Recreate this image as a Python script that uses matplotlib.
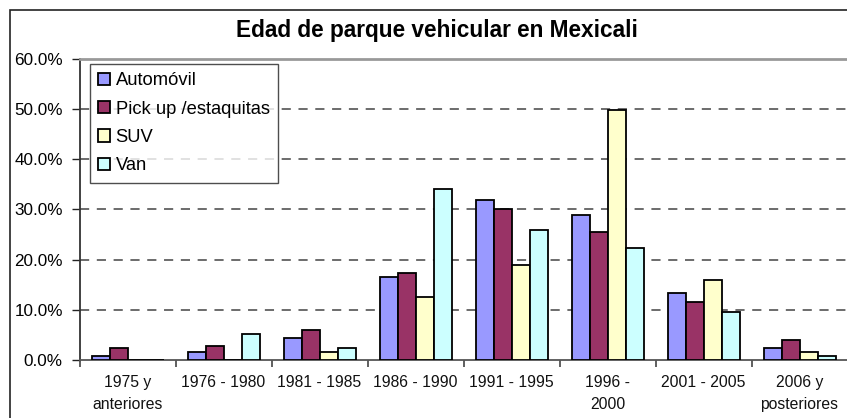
import matplotlib
matplotlib.use("Agg")
import matplotlib.pyplot as plt
import numpy as np
from matplotlib.patches import Rectangle
from matplotlib.ticker import FuncFormatter, FixedLocator

plt.rcParams['font.family'] = ['Liberation Sans', 'DejaVu Sans']

categories = ["1975 y\nanteriores", "1976 - 1980", "1981 - 1985", "1986 - 1990",
              "1991 - 1995", "1996 -\n2000", "2001 - 2005", "2006 y\nposteriores"]
automovil = [0.7, 1.6, 4.3, 16.6, 31.8, 28.9, 13.4, 2.3]
pickup = [2.3, 2.7, 5.9, 17.4, 30.1, 25.4, 11.5, 4.0]
suv = [0.0, 0.0, 1.6, 12.6, 19.0, 49.7, 15.9, 1.5]
van = [0.0, 5.2, 2.3, 34.1, 25.8, 22.2, 9.6, 0.8]
series_names = ["Automóvil", "Pick up /estaquitas", "SUV", "Van"]
colors = ["#9999FF", "#993366", "#FFFFCC", "#CCFFFF"]
title = "Edad de parque vehicular en Mexicali"

W, H = 847, 418
fig = plt.figure(figsize=(W / 100, H / 100), dpi=100)

# outer chart border
fig.patches.append(Rectangle((10 / W, -0.1), 1.2, 1 - 10 / H + 0.1,
                             transform=fig.transFigure, fill=False,
                             edgecolor="#222222", linewidth=1.2))

left, right, top, bottom = 79.5, 847.5, 58.5, 360
ax = fig.add_axes([left / W, 1 - bottom / H, (right - left) / W, (bottom - top) / H])

x = np.arange(len(categories))
bw = 0.1875
data = [automovil, pickup, suv, van]
for i, (vals, c, name) in enumerate(zip(data, colors, series_names)):
    ax.bar(x + (i - 1.5) * bw, vals, width=bw, color=c, edgecolor="black",
           linewidth=1.3, label=name, zorder=3)

ax.set_xlim(-0.5, len(categories) - 0.5)
ax.set_ylim(0, 60)
ax.yaxis.set_major_locator(FixedLocator([0, 10, 20, 30, 40, 50, 60]))
ax.yaxis.set_major_formatter(FuncFormatter(lambda v, p: f"{v:.1f}%"))
ax.set_xticks(x)
ax.set_xticklabels(categories, fontsize=11.3, color="#111111", linespacing=1.6)
ax.xaxis.set_minor_locator(FixedLocator(np.arange(-0.5, len(categories), 1.0)))
ax.tick_params(axis="x", which="major", length=0, pad=11)
ax.tick_params(axis="x", which="minor", length=5, color="#444444", width=1.2)
ax.tick_params(axis="y", length=6, color="#222222", width=1, labelsize=12.3, pad=6)

for gy in [10, 20, 30, 40, 50]:
    ax.axhline(gy, color="#444444", linestyle=(0, (6, 5)), linewidth=1.1, zorder=1)

ax.spines["right"].set_visible(False)
ax.spines["top"].set_color("#999999")
ax.spines["top"].set_linewidth(2)
ax.spines["left"].set_color("#333333")
ax.spines["left"].set_linewidth(1.3)
ax.spines["bottom"].set_color("#555555")
ax.spines["bottom"].set_linewidth(1.3)

fig.text(437 / W, 1 - 30 / H, title, ha="center", va="center",
         fontsize=16.3, fontweight="bold")

leg = ax.legend(loc="upper left",
                bbox_to_anchor=((90 - left) / (right - left), 1 - (64 - top) / (bottom - top)),
                frameon=True, fancybox=False, shadow=False, fontsize=13.2,
                handlelength=0.65, handleheight=0.65, handletextpad=0.3,
                borderpad=0.45, labelspacing=0.62, borderaxespad=0)
leg.get_frame().set_edgecolor("#222222")
leg.get_frame().set_linewidth(1.0)

fig.savefig("out.png", dpi=100)
